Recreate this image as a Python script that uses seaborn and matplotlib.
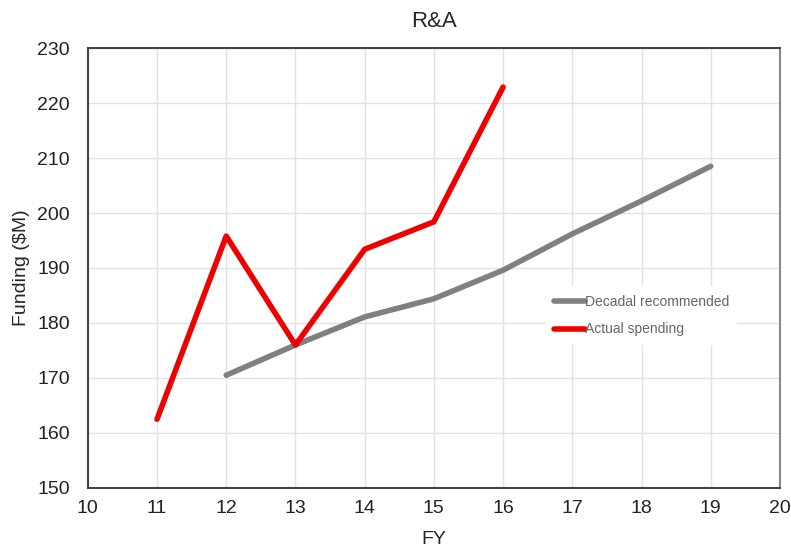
import pandas as pd
import numpy as np
import seaborn as sns
import matplotlib
matplotlib.use("Agg")
import matplotlib.pyplot as plt

# values
fy_decadal = [12, 13, 14, 15, 16, 17, 18, 19]
decadal = [170.5, 176.0, 181.1, 184.4, 189.6, 196.2, 202.2, 208.5]
fy_actual = [11, 12, 13, 14, 15, 16]
actual = [162.5, 195.8, 176.0, 193.4, 198.4, 222.9]

df = pd.concat([
    pd.DataFrame({'FY': fy_decadal, 'Funding': decadal, 'series': 'Decadal recommended'}),
    pd.DataFrame({'FY': fy_actual, 'Funding': actual, 'series': 'Actual spending'}),
])

sns.set_style('white')
plt.rcParams['font.family'] = ['Liberation Sans', 'DejaVu Sans']

fig = plt.figure(figsize=(7.91, 5.52), dpi=100)
ax = fig.add_axes([0.111, 0.116, 0.875, 0.797])

sns.lineplot(data=df, x='FY', y='Funding', hue='series',
             palette={'Decadal recommended': '#808080', 'Actual spending': '#ee0000'},
             linewidth=4, ax=ax)

ax.set_xlim(10, 20)
ax.set_ylim(150, 230)
ax.set_xticks(range(10, 21))
ax.set_yticks(range(150, 231, 10))
ax.grid(True, color='#e2e2e2', linewidth=1.0)
ax.set_axisbelow(True)
for s in ['left', 'bottom', 'top']:
    ax.spines[s].set_color('#444444')
    ax.spines[s].set_linewidth(1.5)
ax.spines['right'].set_color('#888888')
ax.spines['right'].set_linewidth(1.5)
ax.tick_params(labelsize=14, length=0, colors='#222222')
ax.tick_params(axis='y', pad=13)
ax.tick_params(axis='x', pad=9)
ax.set_xlabel('FY', fontsize=14, labelpad=10)
ax.set_ylabel('Funding ($M)', fontsize=14, labelpad=5)
ax.set_title('R&A', fontsize=16, pad=15)

leg = ax.legend(loc='center left', bbox_to_anchor=(0.652, 0.392), frameon=True,
                fontsize=10, handlelength=2.2, handletextpad=0.0, labelspacing=1.0,
                borderpad=0.6)
leg.get_frame().set_facecolor('white')
leg.get_frame().set_edgecolor('none')
leg.get_frame().set_alpha(1)
for t in leg.get_texts():
    t.set_color('#666666')

fig.savefig('out.png', dpi=100)
